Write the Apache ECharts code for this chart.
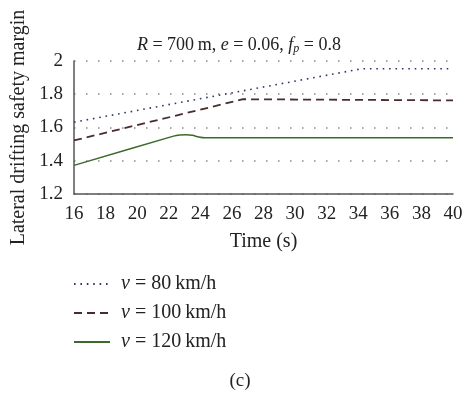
<!DOCTYPE html>
<html>
<head>
<meta charset="utf-8">
<script src="https://cdn.jsdelivr.net/npm/echarts@6/dist/echarts.min.js"></script>
<style>html,body{margin:0;padding:0;background:#fff;}#c{width:469px;height:398px;}</style>
</head>
<body>
<div id="c"></div>
<script>
var xTicks = [16, 18, 20, 22, 24, 26, 28, 30, 32, 34, 36, 38, 40];
var yTicks = [1.2, 1.4, 1.6, 1.8, 2.0];
var seriesNames = ['v = 80 km/h', 'v = 100 km/h', 'v = 120 km/h'];
var t80 = [16, 34.2, 40];
var v80 = [1.632, 1.953, 1.953];
var t100 = [16, 26.7, 40];
var v100 = [1.522, 1.770, 1.763];
var t120 = [16, 22.3, 22.7, 23.1, 23.5, 23.9, 24.3, 40];
var v120 = [1.372, 1.548, 1.555, 1.557, 1.553, 1.543, 1.538, 1.538];

function pairs(t, v) { return t.map(function (x, i) { return [x, v[i]]; }); }

var FONT = 'Liberation Serif';
var S = '\u2005';
var chart = echarts.init(document.getElementById('c'), null, {renderer: 'canvas'});
chart.setOption({
  animation: false,
  backgroundColor: '#fff',
  textStyle: {fontFamily: FONT, color: '#222'},
  title: [{
    text: '{i|R}' + S + '=' + S + '700\u2009m, {i|e}' + S + '=' + S + '0.06, {i|f}{sub|p}' + S + '=' + S + '0.8',
    left: 234, top: 30, textAlign: 'center',
    textStyle: {
      fontFamily: FONT, fontSize: 18, fontWeight: 'normal', color: '#222',
      rich: {
        i: {fontFamily: FONT, fontSize: 18, fontStyle: 'italic', color: '#222'},
        sub: {fontFamily: FONT, fontSize: 12, fontStyle: 'italic', color: '#222', padding: [8, 0, 0, 0]}
      }
    }
  }, {
    text: '(c)', left: 235, top: 367, textAlign: 'center',
    textStyle: {fontFamily: FONT, fontSize: 19, fontWeight: 'normal', color: '#222'}
  }],
  legend: {
    orient: 'vertical', left: 68, top: 269, itemGap: 9, itemWidth: 36, itemHeight: 20,
    data: seriesNames,
    itemStyle: {opacity: 0},
    formatter: function (n) { return '{i|v}' + n.slice(1).replace(' km', '\u2009km'); },
    textStyle: {
      fontFamily: FONT, fontSize: 20, color: '#222', padding: [0, 0, 0, 6],
      rich: {i: {fontFamily: FONT, fontSize: 20, fontStyle: 'italic', color: '#222'}}
    }
  },
  grid: {left: 74, right: 16, top: 61, bottom: 204, containLabel: false},
  xAxis: {
    type: 'value', min: 16, max: 40, interval: 2,
    name: 'Time (s)', nameLocation: 'middle', nameGap: 38,
    nameTextStyle: {fontFamily: FONT, fontSize: 20, color: '#222'},
    axisLine: {lineStyle: {color: '#555', width: 1.5}},
    axisTick: {show: false},
    axisLabel: {fontFamily: FONT, fontSize: 19, color: '#222', margin: 11},
    splitLine: {show: false}
  },
  yAxis: {
    type: 'value', min: 1.2, max: 2.0, interval: 0.2,
    name: 'Lateral drifting safety margin', nameLocation: 'middle', nameGap: 44,
    nameTextStyle: {fontFamily: FONT, fontSize: 20, color: '#222'},
    axisLine: {show: true, lineStyle: {color: '#555', width: 1.5}},
    axisTick: {show: false},
    axisLabel: {fontFamily: FONT, fontSize: 19, color: '#222', margin: 11,
      formatter: function (v) { return String(Math.round(v * 10) / 10); }},
    splitLine: {show: true, lineStyle: {color: '#888', width: 1.5, type: [1.5, 10.5]}}
  },
  series: [{
    name: seriesNames[0], type: 'line', symbol: 'none', data: pairs(t80, v80),
    lineStyle: {color: '#2e3768', width: 1.6, type: [1.6, 4.8]}, itemStyle: {color: '#2e3768'}
  }, {
    name: seriesNames[1], type: 'line', symbol: 'none', data: pairs(t100, v100),
    lineStyle: {color: '#4a2b2e', width: 1.8, type: [8, 5]}, itemStyle: {color: '#4a2b2e'}
  }, {
    name: seriesNames[2], type: 'line', symbol: 'none', smooth: 0.3, data: pairs(t120, v120),
    lineStyle: {color: '#3d6a2c', width: 1.5}, itemStyle: {color: '#3d6a2c'}
  }]
});
</script>
</body>
</html>
